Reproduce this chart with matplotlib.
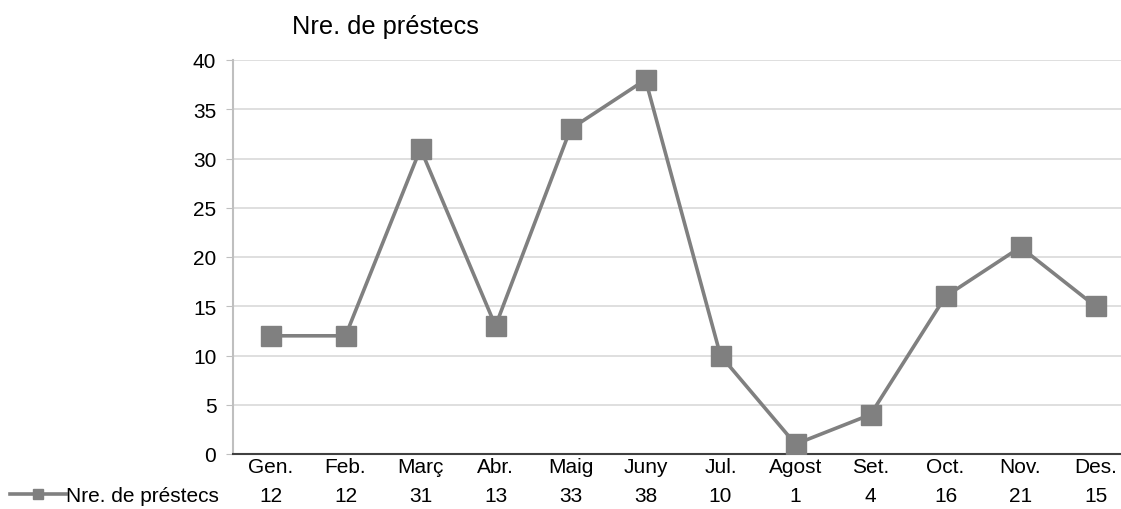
import matplotlib.pyplot as plt
from matplotlib.lines import Line2D
from matplotlib.transforms import blended_transform_factory

plt.rcParams['font.family'] = ['Liberation Sans', 'DejaVu Sans']

# data
months = ['Gen.', 'Feb.', 'Març', 'Abr.', 'Maig', 'Juny', 'Jul.', 'Agost', 'Set.', 'Oct.', 'Nov.', 'Des.']
loans = [12, 12, 31, 13, 33, 38, 10, 1, 4, 16, 21, 15]
series_name = 'Nre. de préstecs'
yticks = [0, 5, 10, 15, 20, 25, 30, 35, 40]

W, H = 1121, 510
fs = 15
fig = plt.figure(figsize=(W / 100, H / 100), dpi=100)
ax = fig.add_axes([233 / W, 55 / H, 888 / W, 394 / H])

x = list(range(len(months)))
ax.plot(x, loans, color='#808080', lw=2.6, marker='s', ms=14, zorder=3)

ax.set_xlim(-0.5, 11.34)
ax.set_ylim(0, 40)
ax.set_yticks(yticks)
ax.grid(axis='y', color='#d9d9d9', lw=1.2)
ax.set_axisbelow(True)
for s in ['top', 'right']:
    ax.spines[s].set_visible(False)
ax.spines['left'].set_color('#bfbfbf')
ax.spines['left'].set_linewidth(1.5)
ax.spines['bottom'].set_color('#404040')
ax.spines['bottom'].set_linewidth(1.5)
ax.tick_params(axis='y', labelsize=fs, length=5, color='#bfbfbf', pad=7)
ax.set_xticks(x)
ax.set_xticklabels(months, fontsize=fs)
ax.tick_params(axis='x', length=0, pad=2)

# data table row under the axis
tr = blended_transform_factory(ax.transData, fig.transFigure)
for xi, v in zip(x, loans):
    ax.text(xi, 1 - 497 / H, str(v), transform=tr, ha='center', va='center', fontsize=fs)

key = Line2D([], [], color='#808080', lw=2.6, marker='s', ms=7)
fig.legend(handles=[key], labels=[series_name], loc='center left',
           bbox_to_anchor=(10 / W, 1 - 497 / H), frameon=False, fontsize=fs,
           handlelength=2.7, handletextpad=0.0, borderpad=0, borderaxespad=0)

fig.text(385 / W, 1 - 27 / H, series_name, ha='center', va='center', fontsize=18.3)

fig.savefig('out.png', dpi=100)
